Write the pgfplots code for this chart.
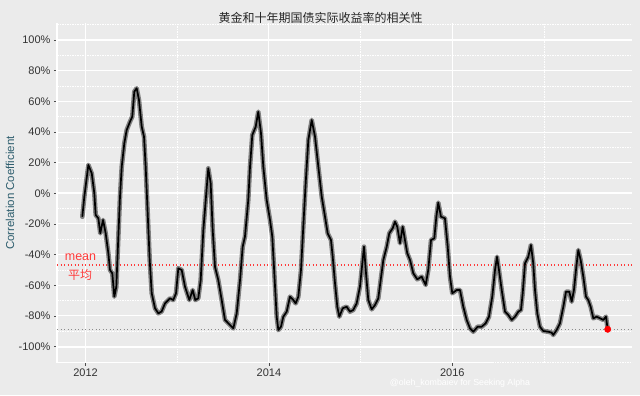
\documentclass[border=0pt]{standalone}
\usepackage{fontspec}
\setmainfont{Liberation Sans}
\newfontfamily\cjk{Noto Sans CJK SC}
\usepackage{pgfplots}
\usepackage{pgfplotstable}
\pgfplotsset{compat=1.18}
\definecolor{bg}{HTML}{EBEBEB}
\definecolor{ylab}{HTML}{2E5E6E}
\definecolor{meanred}{HTML}{FF3B3B}

\pgfplotstableread{
x y
2011.965 -15.3
2011.987 -2.2
2012.031 18.5
2012.068 13.0
2012.096 0.0
2012.111 -14.2
2012.140 -16.3
2012.161 -26.1
2012.191 -17.4
2012.220 -26.1
2012.249 -39.1
2012.267 -50.0
2012.292 -52.2
2012.314 -67.4
2012.336 -60.9
2012.358 -28.3
2012.376 -2.2
2012.395 17.4
2012.423 32.6
2012.449 41.3
2012.485 46.7
2012.510 50.0
2012.532 66.3
2012.558 68.5
2012.583 60.9
2012.613 43.4
2012.638 36.9
2012.656 17.4
2012.678 -13.0
2012.700 -43.5
2012.722 -65.2
2012.758 -75.0
2012.794 -78.3
2012.830 -77.1
2012.867 -71.8
2012.921 -68.5
2012.957 -69.6
2012.987 -65.2
2013.012 -48.9
2013.049 -50.0
2013.085 -60.9
2013.132 -69.6
2013.169 -63.1
2013.197 -69.6
2013.230 -68.5
2013.256 -56.6
2013.285 -23.9
2013.314 -2.2
2013.339 16.3
2013.365 6.5
2013.387 -23.9
2013.412 -47.9
2013.448 -56.6
2013.485 -69.6
2013.521 -82.6
2013.576 -85.9
2013.612 -88.1
2013.649 -78.3
2013.685 -56.6
2013.714 -34.8
2013.739 -28.3
2013.775 -4.4
2013.794 17.4
2013.819 38.0
2013.856 43.4
2013.884 53.2
2013.914 39.1
2013.939 17.4
2013.976 -4.4
2014.012 -17.4
2014.037 -28.3
2014.059 -52.2
2014.085 -80.5
2014.103 -89.2
2014.132 -87.0
2014.157 -80.5
2014.194 -77.2
2014.230 -67.4
2014.266 -69.6
2014.292 -71.8
2014.321 -67.4
2014.350 -50.0
2014.375 -21.8
2014.401 6.5
2014.430 34.8
2014.467 47.8
2014.503 36.9
2014.539 17.4
2014.576 -2.2
2014.612 -15.3
2014.641 -26.1
2014.677 -30.5
2014.696 -41.4
2014.721 -58.7
2014.746 -74.0
2014.768 -80.5
2014.805 -75.0
2014.848 -74.0
2014.884 -77.2
2014.920 -76.1
2014.957 -71.8
2014.993 -60.9
2015.019 -45.7
2015.037 -34.8
2015.059 -52.2
2015.084 -69.6
2015.121 -75.7
2015.157 -72.9
2015.193 -68.5
2015.219 -56.6
2015.248 -43.5
2015.285 -34.8
2015.313 -26.1
2015.350 -22.8
2015.375 -18.5
2015.400 -21.8
2015.430 -32.6
2015.459 -21.8
2015.484 -30.5
2015.509 -39.1
2015.539 -43.5
2015.575 -52.2
2015.618 -56.1
2015.666 -54.4
2015.710 -59.8
2015.738 -50.0
2015.768 -30.5
2015.804 -29.4
2015.826 -15.3
2015.847 -6.1
2015.877 -15.3
2015.920 -16.3
2015.950 -34.8
2015.975 -54.4
2016.000 -65.2
2016.048 -63.1
2016.084 -63.1
2016.120 -74.0
2016.157 -82.6
2016.193 -88.1
2016.229 -90.3
2016.277 -87.0
2016.321 -87.0
2016.364 -84.8
2016.400 -80.5
2016.436 -67.4
2016.466 -50.0
2016.488 -41.4
2016.509 -50.0
2016.539 -63.1
2016.575 -77.2
2016.611 -79.4
2016.648 -82.6
2016.684 -80.5
2016.720 -77.2
2016.749 -76.1
2016.768 -65.2
2016.793 -45.7
2016.829 -41.4
2016.858 -33.7
2016.883 -45.7
2016.902 -63.1
2016.927 -78.3
2016.956 -87.0
2016.992 -89.8
2017.047 -90.3
2017.084 -90.9
2017.101 -92.4
2017.138 -89.2
2017.174 -84.8
2017.211 -74.0
2017.240 -64.2
2017.276 -64.2
2017.302 -70.7
2017.327 -63.1
2017.349 -50.0
2017.374 -37.0
2017.400 -43.5
2017.429 -54.4
2017.458 -67.4
2017.483 -69.6
2017.509 -74.0
2017.538 -81.5
2017.575 -80.5
2017.610 -81.5
2017.647 -82.6
2017.676 -80.5
2017.695 -88.7
}\corr

\begin{document}
\begin{tikzpicture}[x=1bp,y=1bp]
\fill[bg] (0,0) rectangle (640,395);
\begin{axis}[
 at={(57bp,32.3bp)}, anchor=south west,
 scale only axis, width=575bp, height=339.6bp,
 xmin=2011.689, xmax=2017.96, ymin=-110.5, ymax=111,
 axis line style={draw=none},
 xtick={2012,2014,2016}, xticklabels={2012,2014,2016},
 minor xtick={2013,2015,2017},
 ytick={-100,-80,-60,-40,-20,0,20,40,60,80,100},
 yticklabels={-100\%,-80\%,-60\%,-40\%,-20\%,0\%,20\%,40\%,60\%,80\%,100\%},
 minor ytick={-110,-90,-70,-50,-30,-10,10,30,50,70,90,110},
 grid=both,
 major grid style={white, line width=0.9bp},
 minor grid style={white, line width=0.6bp, dash pattern=on 1.5bp off 1bp},
 tick pos=left, tick align=outside,
 major tick length=3bp, minor tick length=0pt,
 tick style={black!70, line width=0.6bp},
 ticklabel style={font=\fontsize{11bp}{12bp}\selectfont, text=black!80},
 clip=false,
]
\draw[white, line width=2bp] (axis cs:2011.689,100) -- (axis cs:2017.96,100);
\draw[white, line width=2bp] (axis cs:2011.689,0) -- (axis cs:2017.96,0);
\draw[white, line width=2bp] (axis cs:2011.689,-100) -- (axis cs:2017.96,-100);
\draw[white, line width=1.2bp] (axis cs:2011.689,-110.5) -- (axis cs:2016.433,-110.5);
\draw[white, line width=1.2bp] (axis cs:2011.689,-110.5) -- (axis cs:2011.689,111);
\draw[meanred, line width=1.1bp, dash pattern=on 1.2bp off 2.3bp] (axis cs:2011.689,-46.8) -- (axis cs:2017.96,-46.8);
\draw[black!45, line width=1.1bp, dash pattern=on 1.2bp off 2.3bp] (axis cs:2011.689,-88.7) -- (axis cs:2017.96,-88.7);
\addplot[black!60, line width=4.6bp, line join=round, line cap=round, opacity=0.8] table {\corr};
\addplot[black, line width=1.7bp, line join=round] table {\corr};
\addplot[only marks, mark=*, mark size=3.2bp, red] coordinates {(2017.695,-88.7)};
\end{axis}
\node[font=\cjk\fontsize{12bp}{13bp}\selectfont, text=black!85] at (320.5,377.5) {黄金和十年期国债实际收益率的相关性};
\node[rotate=90, text=ylab, font=\fontsize{11.5bp}{13bp}\selectfont] at (10,202) {Correlation Coefficient};
\node[text=meanred, font=\fontsize{12.5bp}{14bp}\selectfont] at (80.5,138) {mean};
\node[text=meanred, font=\cjk\fontsize{12bp}{14bp}\selectfont] at (80,120) {平均};
\node[text=white, font=\fontsize{8.8bp}{10bp}\selectfont] at (460,12) {@oleh\_kombaiev for Seeking Alpha};
\pgfresetboundingbox
\useasboundingbox (0,0) rectangle (640,395);
\end{tikzpicture}
\end{document}
